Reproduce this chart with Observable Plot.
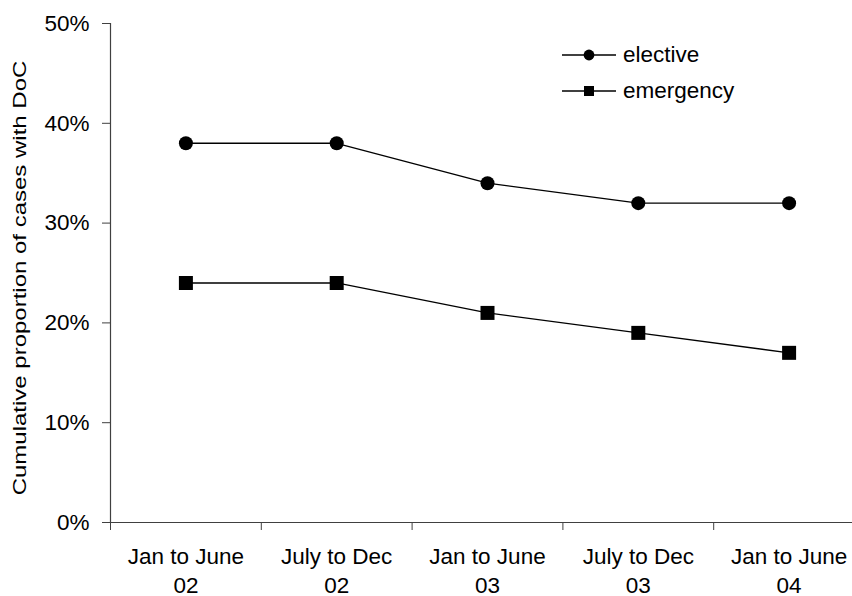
<!DOCTYPE html>
<html>
<head>
<meta charset="utf-8">
<script src="https://cdn.jsdelivr.net/npm/d3@7"></script>
<script src="https://cdn.jsdelivr.net/npm/@observablehq/plot@0.6"></script>
<style>
  html, body { margin: 0; padding: 0; background: #fff; overflow: hidden; }
  #chart { position: relative; width: 852px; height: 596px; overflow: hidden;
           font-family: "Liberation Sans", Arial, sans-serif; }
  #chart svg { max-width: none !important; }
  .legend { position: absolute; left: 562px; top: 37px; font-size: 22.5px; color: #000; }
  .legend .row { display: flex; align-items: center; height: 36px; }
  .legend svg { display: block; margin-right: 7px; }
</style>
</head>
<body>
<div id="chart"></div>
<script>
// Reporting periods (x categories)
const periods = [
  "Jan to June\n02",
  "July to Dec\n02",
  "Jan to June\n03",
  "July to Dec\n03",
  "Jan to June\n04"
];
// Cumulative proportion of cases with DoC, per admission type
const elective  = [0.38, 0.38, 0.34, 0.32, 0.32];
const emergency = [0.24, 0.24, 0.21, 0.19, 0.17];
const seriesNames = ["elective", "emergency"];
const seriesSymbols = ["circle", "square"];
const yTicks = [0, 0.1, 0.2, 0.3, 0.4, 0.5];
const yLabel = "Cumulative proportion of cases with DoC";

// Long-format table; each period sits in the middle of its slot on a 0..n axis
const rows = [elective, emergency].flatMap((vals, s) =>
  vals.map((v, i) => ({ series: seriesNames[s], pos: i + 0.5, value: v }))
);

const axisColor = "#404040";

const chart = Plot.plot({
  width: 864,
  height: 596,
  marginLeft: 110,
  marginRight: 0,
  marginTop: 23,
  marginBottom: 74,
  style: { fontFamily: "Liberation Sans, Arial, sans-serif", fontSize: "22.5px", color: "#000", background: "#fff" },
  x: { domain: [0, periods.length], axis: null },
  y: { domain: [0, 0.5], axis: null },
  marks: [
    // axis lines
    Plot.ruleY([0], { stroke: axisColor, strokeWidth: 1.2 }),
    Plot.ruleX([0], { stroke: axisColor, strokeWidth: 1.2 }),
    // y axis ticks and percentage labels
    Plot.axisY({ ticks: yTicks, tickSize: 8, tickPadding: 13, tickFormat: d3.format(".0%"),
                 stroke: axisColor, label: null, fill: "#000" }),
    // x axis: tick marks between periods
    Plot.axisX({ ticks: d3.range(periods.length + 1), tickSize: 8, tickFormat: () => "",
                 stroke: axisColor, label: null }),
    // x axis: period names centered in each slot
    Plot.axisX({ ticks: periods.map((p, i) => i + 0.5), tickSize: 0, tickPadding: 21,
                 tickFormat: (d) => periods[Math.floor(d)], lineHeight: 1.29, label: null, fill: "#000" }),
    // y axis title
    Plot.text([yLabel], { frameAnchor: "left", dx: -90, dy: 5, rotate: -90, textAnchor: "middle",
                          lineAnchor: "middle", fontSize: 24, fill: "#000", className: "ytitle" }),
    // series lines and markers
    Plot.line(rows, { x: "pos", y: "value", z: "series", stroke: "#000", strokeWidth: 1.3 }),
    Plot.dot(rows.filter((d) => d.series === "elective"),
             { x: "pos", y: "value", symbol: "circle", r: 7, fill: "#000", stroke: "none" }),
    Plot.dot(rows.filter((d) => d.series === "emergency"),
             { x: "pos", y: "value", symbol: "square", r: 7.9, fill: "#000", stroke: "none" })
  ]
});

// The rotated title is set in a condensed glyph height
d3.select(chart).selectAll(".ytitle text").attr("transform", function () {
  return this.getAttribute("transform") + " scale(1,0.78)";
});

const root = document.getElementById("chart");
root.appendChild(chart);

// Legend
const legend = document.createElement("div");
legend.className = "legend";
seriesNames.forEach((name, i) => {
  const row = document.createElement("div");
  row.className = "row";
  const marker = seriesSymbols[i] === "circle"
    ? '<circle cx="27" cy="10" r="5.4" fill="#000"/>'
    : '<rect x="22" y="5" width="10" height="10" fill="#000"/>';
  row.innerHTML = '<svg width="54" height="20"><line x1="0" x2="54" y1="10" y2="10" stroke="#000" stroke-width="1.3"/>'
    + marker + '</svg><span>' + name + '</span>';
  legend.appendChild(row);
});
root.appendChild(legend);
</script>
</body>
</html>
